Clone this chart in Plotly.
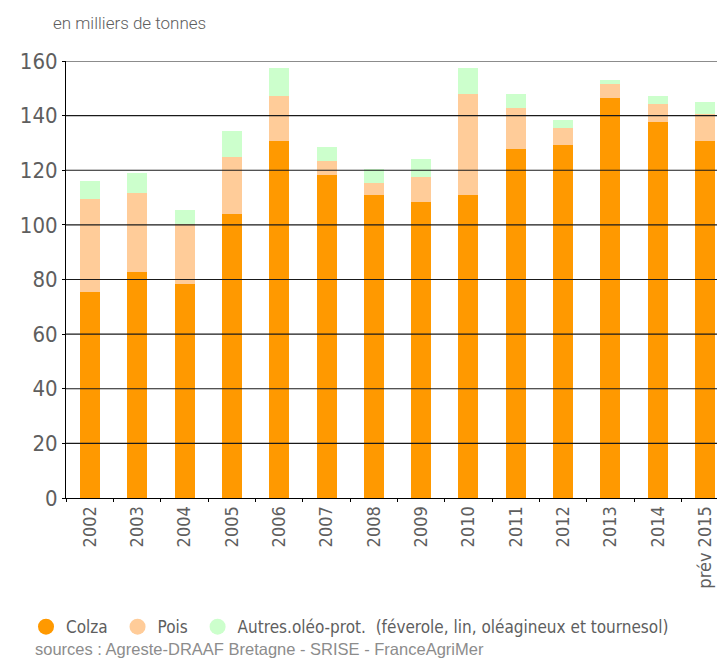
import plotly.graph_objects as go

years = ["2002", "2003", "2004", "2005", "2006", "2007", "2008", "2009",
         "2010", "2011", "2012", "2013", "2014", "prév 2015"]
colza = [75.4, 82.8, 78.3, 103.9, 130.7, 118.2, 110.9, 108.3, 110.9, 127.7, 129.2, 146.4, 137.6, 130.6]
pois = [34.0, 28.8, 22.1, 20.9, 16.5, 5.1, 4.4, 9.2, 37.0, 15.0, 6.2, 5.1, 6.6, 9.9]
autres = [6.6, 7.3, 5.0, 9.5, 10.1, 5.1, 5.1, 6.5, 9.4, 5.1, 2.9, 1.4, 2.9, 4.4]
y_ticks = [0, 20, 40, 60, 80, 100, 120, 140, 160]

series_names = ["Colza", "Pois", "Autres.oléo-prot.\u00a0\u00a0(féverole, lin, oléagineux et tournesol)"]
legend_names = ["Colza\u00a0", "Pois\u00a0", series_names[2]]
series_colors = ["#FF9900", "#FFCC99", "#CCFFCC"]

FONT = "DejaVu Sans Condensed, Roboto, sans-serif"
TXT = "#5e5e5e"

fig = go.Figure()
for vals, name, col in zip([colza, pois, autres], series_names, series_colors):
    fig.add_trace(go.Bar(x=years, y=vals, name=name, marker=dict(color=col, line=dict(width=0)),
                         showlegend=False))
for name, col in zip(legend_names, series_colors):
    fig.add_trace(go.Scatter(x=[None], y=[None], mode="markers", name=name,
                             marker=dict(symbol="circle", size=16, color=col)))

for v in y_ticks[1:]:
    fig.add_shape(type="line", xref="paper", x0=0, x1=1, yref="y", y0=v, y1=v,
                  line=dict(color="#1a1a1a", width=1.2), layer="above")

# the page body adds an 8px margin, so the figure is 8px smaller and shifted
fig.update_layout(
    width=717, height=650,
    margin=dict(l=58, r=0, t=53, b=160, autoexpand=False),
    barmode="stack", bargap=0.577,
    plot_bgcolor="white", paper_bgcolor="white",
    font=dict(family=FONT, color=TXT, weight=300),
    showlegend=True,
    legend=dict(orientation="h", traceorder="normal", x=-0.0607, xanchor="left", y=-0.2955,
                yanchor="middle", font=dict(size=17, color=TXT, weight=300),
                bgcolor="rgba(0,0,0,0)"),
    xaxis=dict(type="category", range=[-0.507, 13.423], tickson="boundaries",
               ticks="outside", ticklen=3, tickcolor="black", showline=True,
               linecolor="black", linewidth=1, showgrid=False, tickangle=-90, automargin=False,
               tickfont=dict(size=18, color=TXT, family=FONT, weight=300), layer="above traces"),
    yaxis=dict(range=[0, 160], tickvals=y_ticks, ticks="outside", ticklen=3, tickcolor="black",
               showline=True, linecolor="black", linewidth=1, showgrid=False, zeroline=False,
               automargin=False,
               tickfont=dict(size=22, color=TXT, family=FONT, weight=300), layer="above traces"),
    annotations=[
        dict(text="en milliers de tonnes", xref="paper", yref="paper", x=-0.0228, y=1.087,
             xanchor="left", yanchor="middle", showarrow=False,
             font=dict(size=17, color=TXT, family="Roboto", weight=300)),
        dict(text="sources : Agreste-DRAAF Bretagne - SRISE - FranceAgriMer", xref="paper",
             yref="paper", x=-0.050, y=-0.3455, xanchor="left", yanchor="middle", showarrow=False,
             font=dict(size=16.5, color="#8c8c8c", family="Liberation Sans", weight=300)),
    ],
)

fig.write_html("out.html")
